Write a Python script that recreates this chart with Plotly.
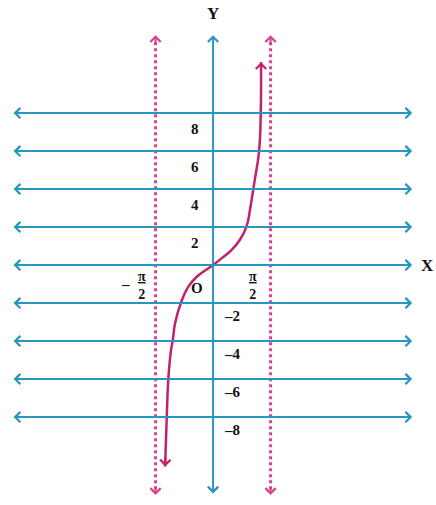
import plotly.graph_objects as go

# ---- data ----
grid_y = [8, 6, 4, 2, 0, -2, -4, -6, -8]
grid_x_span = [-5.49, 5.44]
vert_y_span = [-12.1, 12.1]
asymptotes = [-1.5708, 1.5708]
curve_x = [-1.31, -1.265, -1.22, -1.148, -1.10, -1.038, -0.883, -0.675, -0.445, 0.0,
           0.23, 0.503, 0.73, 0.913, 1.022, 1.10, 1.139, 1.257, 1.303, 1.31]
curve_y = [-10.6, -8.0, -5.95, -4.47, -3.95, -3.07, -2.02, -1.14, -0.616, 0.0,
           0.35, 0.79, 1.32, 2.02, 3.07, 4.0, 4.47, 6.0, 8.0, 10.68]
pos_labels = ["8", "6", "4", "2"]
pos_vals = [8, 6, 4, 2]
neg_labels = ["–2", "–4", "–6", "–8"]
neg_vals = [-2, -4, -6, -8]

CYAN = "#2996c0"
PINK = "#d9428f"
CURVE = "#c2216b"
FONT = dict(family="Liberation Serif", size=15, color="#111111")
FRAC = dict(family="Liberation Serif", size=14, color="#111111")

fig = go.Figure()
anns = []

# horizontal lines with double arrows
for yv in grid_y:
    anns.append(dict(x=grid_x_span[1], y=yv, ax=grid_x_span[0], ay=yv,
                     xref="x", yref="y", axref="x", ayref="y", text="",
                     showarrow=True, arrowhead=4, startarrowhead=4,
                     arrowside="end+start", arrowsize=1, startarrowsize=1,
                     arrowwidth=2, arrowcolor=CYAN))
# y axis
anns.append(dict(x=0, y=vert_y_span[1], ax=0, ay=vert_y_span[0],
                 xref="x", yref="y", axref="x", ayref="y", text="",
                 showarrow=True, arrowhead=4, startarrowhead=4,
                 arrowside="end+start", arrowsize=1, startarrowsize=1,
                 arrowwidth=2, arrowcolor=CYAN))

# dotted asymptotes
for xa in asymptotes:
    fig.add_trace(go.Scatter(x=[xa, xa], y=[vert_y_span[0] + 0.3, vert_y_span[1] - 0.3],
                             mode="lines", line=dict(color=PINK, width=3, dash="dot"),
                             hoverinfo="skip", showlegend=False))
    for tip, back in [(vert_y_span[1], vert_y_span[1] - 0.5), (vert_y_span[0], vert_y_span[0] + 0.5)]:
        anns.append(dict(x=xa, y=tip, ax=xa, ay=back, xref="x", yref="y",
                         axref="x", ayref="y", text="", showarrow=True,
                         arrowhead=4, arrowsize=1, arrowwidth=2, arrowcolor=PINK))

# tan curve
fig.add_trace(go.Scatter(x=curve_x, y=curve_y, mode="lines",
                         line=dict(color=CURVE, width=2.5, shape="spline", smoothing=1.3),
                         hoverinfo="skip", showlegend=False))
anns.append(dict(x=curve_x[-1], y=curve_y[-1], ax=curve_x[-1], ay=curve_y[-1] - 0.6,
                 xref="x", yref="y", axref="x", ayref="y", text="", showarrow=True,
                 arrowhead=4, arrowsize=1, arrowwidth=2, arrowcolor=CURVE))
anns.append(dict(x=curve_x[0], y=curve_y[0], ax=curve_x[0] + 0.01, ay=curve_y[0] + 0.6,
                 xref="x", yref="y", axref="x", ayref="y", text="", showarrow=True,
                 arrowhead=4, arrowsize=1, arrowwidth=2, arrowcolor=CURVE))

# labels
for t, v in zip(pos_labels, pos_vals):
    anns.append(dict(x=-0.49, y=v - 0.85, text=f"<b>{t}</b>", showarrow=False,
                     xref="x", yref="y", font=FONT))
for t, v in zip(neg_labels, neg_vals):
    anns.append(dict(x=0.52, y=v - 0.7, text=f"<b>{t}</b>", showarrow=False,
                     xref="x", yref="y", font=FONT))
anns.append(dict(x=-0.44, y=-1.2, text="<b>O</b>", showarrow=False, xref="x", yref="y", font=FONT))
anns.append(dict(x=-2.40, y=-0.98, text="<b>–</b>", showarrow=False, xref="x", yref="y", font=FONT))
anns.append(dict(x=-1.94, y=-1.1, text="<b><u>π</u><br>2</b>", showarrow=False,
                 xref="x", yref="y", font=FRAC))
anns.append(dict(x=1.09, y=-1.1, text="<b><u>π</u><br>2</b>", showarrow=False,
                 xref="x", yref="y", font=FRAC))
anns.append(dict(x=0, y=13.25, text="<b>Y</b>", showarrow=False, xref="x", yref="y",
                 font=dict(family="Liberation Serif", size=17, color="#111111")))
anns.append(dict(x=5.87, y=-0.05, text="<b>X</b>", showarrow=False, xref="x", yref="y",
                 font=dict(family="Liberation Serif", size=17, color="#111111")))

fig.update_layout(
    width=436, height=505,
    margin=dict(l=0, r=0, t=0, b=0),
    paper_bgcolor="white", plot_bgcolor="white",
    xaxis=dict(range=[-5.82, 6.09], visible=False, fixedrange=True),
    yaxis=dict(range=[-12.63, 13.95], visible=False, fixedrange=True),
    annotations=anns,
    showlegend=False,
)
fig.write_html("out.html", config={"displayModeBar": False},
               post_script="document.body.style.margin='0';document.body.style.padding='0';")
